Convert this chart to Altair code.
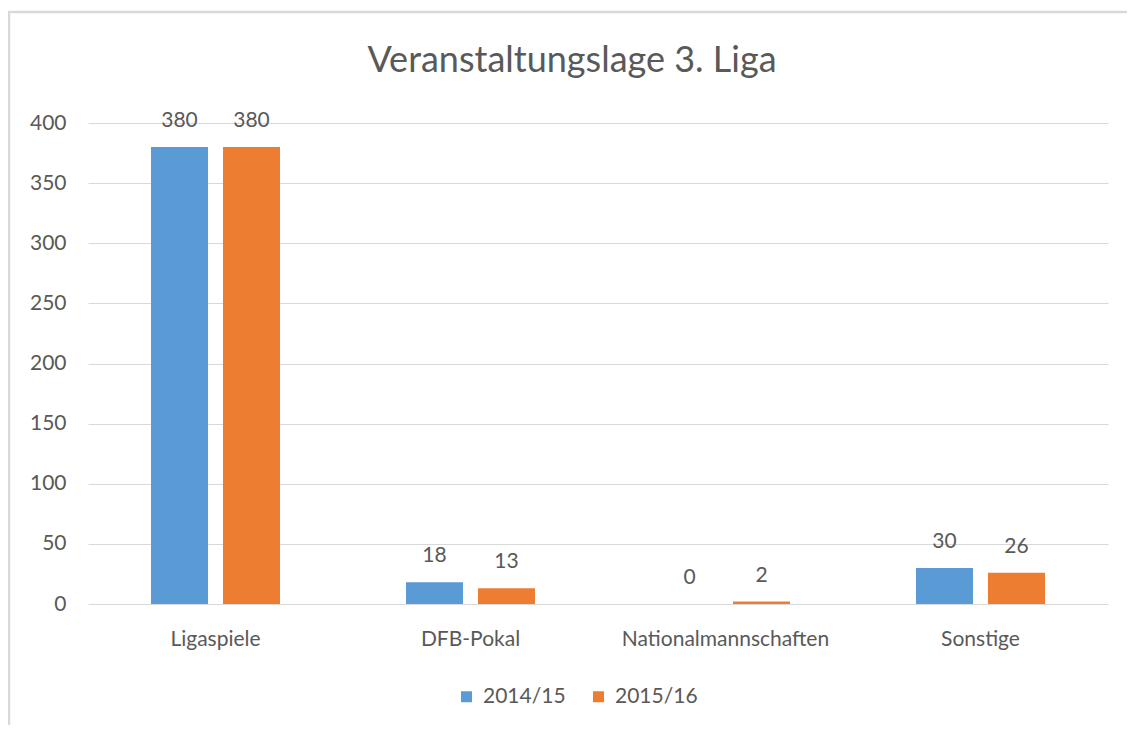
import altair as alt
import pandas as pd

categories = ["Ligaspiele", "DFB-Pokal", "Nationalmannschaften", "Sonstige"]
series = ["2014/15", "2015/16"]
values_2014 = [380, 18, 0, 30]
values_2015 = [380, 13, 2, 26]
colors = ["#5B9BD5", "#ED7D31"]
title_text = "Veranstaltungslage 3. Liga"

rows = []
for c, a, b in zip(categories, values_2014, values_2015):
    rows.append({"Kategorie": c, "Saison": series[0], "Wert": a})
    rows.append({"Kategorie": c, "Saison": series[1], "Wert": b})
df = pd.DataFrame(rows)

FONT = "Lato"
GRAY = "#595959"
FS = 21

base = alt.Chart(df).encode(
    x=alt.X("Kategorie:N", sort=categories,
            scale=alt.Scale(paddingInner=0, paddingOuter=0),
            axis=alt.Axis(title=None, labelAngle=0, labelFontSize=FS, labelColor=GRAY,
                          labelFont=FONT, labelPadding=24, ticks=False, domain=False,
                          grid=False, labelLimit=0)),
    xOffset=alt.XOffset("Saison:N", sort=series,
                        scale=alt.Scale(paddingInner=0.208, paddingOuter=0.875)),
)

bars = base.mark_bar().encode(
    y=alt.Y("Wert:Q", scale=alt.Scale(domain=[0, 400]),
            axis=alt.Axis(title=None, values=list(range(0, 401, 50)), labelFontSize=FS,
                          labelColor=GRAY, labelFont=FONT, labelPadding=22, ticks=False,
                          domain=False, gridColor="#D9D9D9", gridWidth=1)),
    color=alt.Color("Saison:N", sort=series,
                    scale=alt.Scale(domain=series, range=colors),
                    legend=alt.Legend(title=None, orient="none", direction="horizontal",
                                      legendX=368, legendY=563, symbolType="square",
                                      symbolSize=121, symbolStrokeWidth=0,
                                      labelFontSize=FS, labelColor=GRAY, labelFont=FONT,
                                      columnPadding=22, labelOffset=6)),
)

labels = base.mark_text(baseline="middle", dy=-26, fontSize=FS, color=GRAY, font=FONT).encode(
    y=alt.Y("Wert:Q"),
    text=alt.Text("Wert:Q"),
)

frame_data = alt.Data(values=[{}])
top_line = alt.Chart(frame_data).mark_rule(color="#D9D9D9", strokeWidth=2.5).encode(
    x=alt.value(-81), x2=alt.value(1080), y=alt.value(-111)
)
left_line = alt.Chart(frame_data).mark_rule(color="#D9D9D9", strokeWidth=2.5).encode(
    x=alt.value(-79), y=alt.value(-112), y2=alt.value(660)
)

title = alt.Chart(frame_data).mark_text(
    fontSize=36, font=FONT, color=GRAY, align="center", baseline="alphabetic"
).encode(
    x=alt.value(484), y=alt.value(-51), text=alt.value(title_text)
)

chart = alt.layer(top_line, left_line, title, bars, labels).properties(
    width=1020,
    height=481,
    autosize=alt.AutoSizeParams(type="none"),
    padding={"left": 80, "top": 115, "right": 19, "bottom": 121},
).configure(background="white").configure_view(stroke=None)

chart.save("out.html", embed_options={"renderer": "svg", "actions": False})
